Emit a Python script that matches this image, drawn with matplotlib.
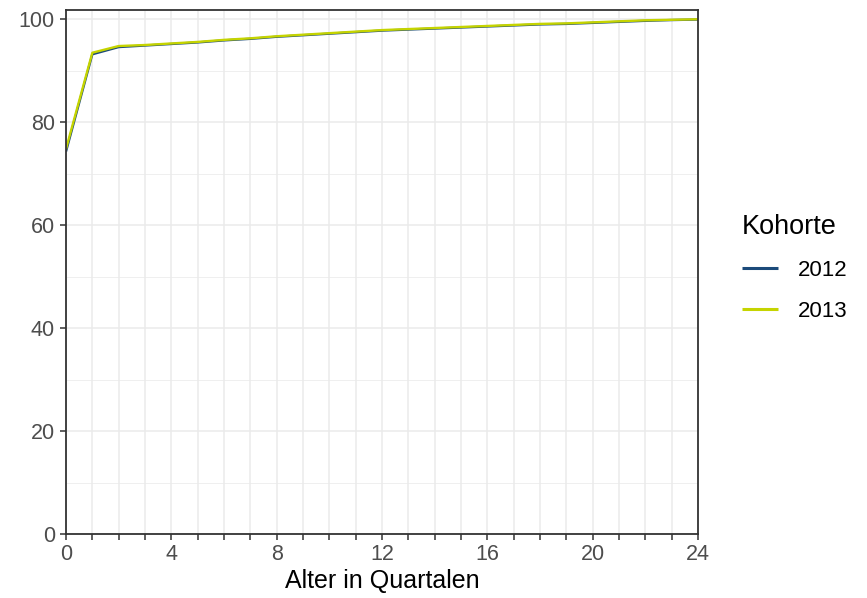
import matplotlib
matplotlib.use("Agg")
import matplotlib.pyplot as plt
from matplotlib.ticker import MultipleLocator, FuncFormatter

plt.rcParams['font.family'] = ['Liberation Sans', 'DejaVu Sans']

quarters = list(range(0, 25))
kohorte_2012 = [74.3, 93.2, 94.6, 94.9, 95.2, 95.5, 95.9, 96.2, 96.6, 96.9, 97.2, 97.5,
                97.8, 98.0, 98.2, 98.4, 98.6, 98.8, 99.0, 99.1, 99.3, 99.5, 99.7, 99.85, 99.95]
kohorte_2013 = [74.8, 93.5, 94.8, 95.0, 95.3, 95.6, 96.0, 96.3, 96.7, 97.0, 97.3, 97.6,
                97.9, 98.1, 98.3, 98.5, 98.7, 98.9, 99.1, 99.2, 99.4, 99.6, 99.8, 99.9, 100.0]
series_labels = ["2012", "2013"]
colors = ["#1b4a7a", "#c5d400"]

fig = plt.figure(figsize=(8.67, 5.98), dpi=100)
ax = fig.add_axes([66/867, 1-534/598, (698-66)/867, (534-10)/598])

ax.plot(quarters, kohorte_2012, color=colors[0], lw=1.7, label=series_labels[0], solid_capstyle='butt')
ax.plot(quarters, kohorte_2013, color=colors[1], lw=1.7, label=series_labels[1], solid_capstyle='butt')

ax.set_xlim(0, 24)
ax.set_ylim(0, 101.8)
ax.xaxis.set_major_locator(MultipleLocator(1))
ax.xaxis.set_major_formatter(FuncFormatter(lambda v, p: f"{int(round(v))}" if int(round(v)) % 4 == 0 else ""))
ax.yaxis.set_major_locator(MultipleLocator(20))
ax.yaxis.set_minor_locator(MultipleLocator(10))

ax.grid(which='major', axis='x', color='#ebebeb', lw=1.1)
ax.grid(which='major', axis='y', color='#ebebeb', lw=1.1)
ax.grid(which='minor', axis='y', color='#ebebeb', lw=0.55)
ax.set_axisbelow(True)

for s in ax.spines.values():
    s.set_color('#333333')
    s.set_linewidth(1.3)

ax.tick_params(which='major', direction='out', length=4.5, width=1.1, color='#333333',
               labelsize=15.5, labelcolor='#4d4d4d')
ax.tick_params(axis='x', pad=3)
ax.tick_params(axis='y', pad=3.5)
ax.tick_params(which='minor', length=0)

ax.set_xlabel("Alter in Quartalen", fontsize=18, color='black', labelpad=2.5)

leg = fig.legend(loc='upper left', bbox_to_anchor=(731/867, 1-203/598), frameon=False,
                 title="Kohorte", fontsize=16, title_fontsize=19.5, handlelength=1.6,
                 handletextpad=0.9, labelspacing=0.9, borderpad=0, alignment='left')
for h in leg.get_lines():
    h.set_linewidth(2.2)

fig.savefig("out.png", dpi=100)
